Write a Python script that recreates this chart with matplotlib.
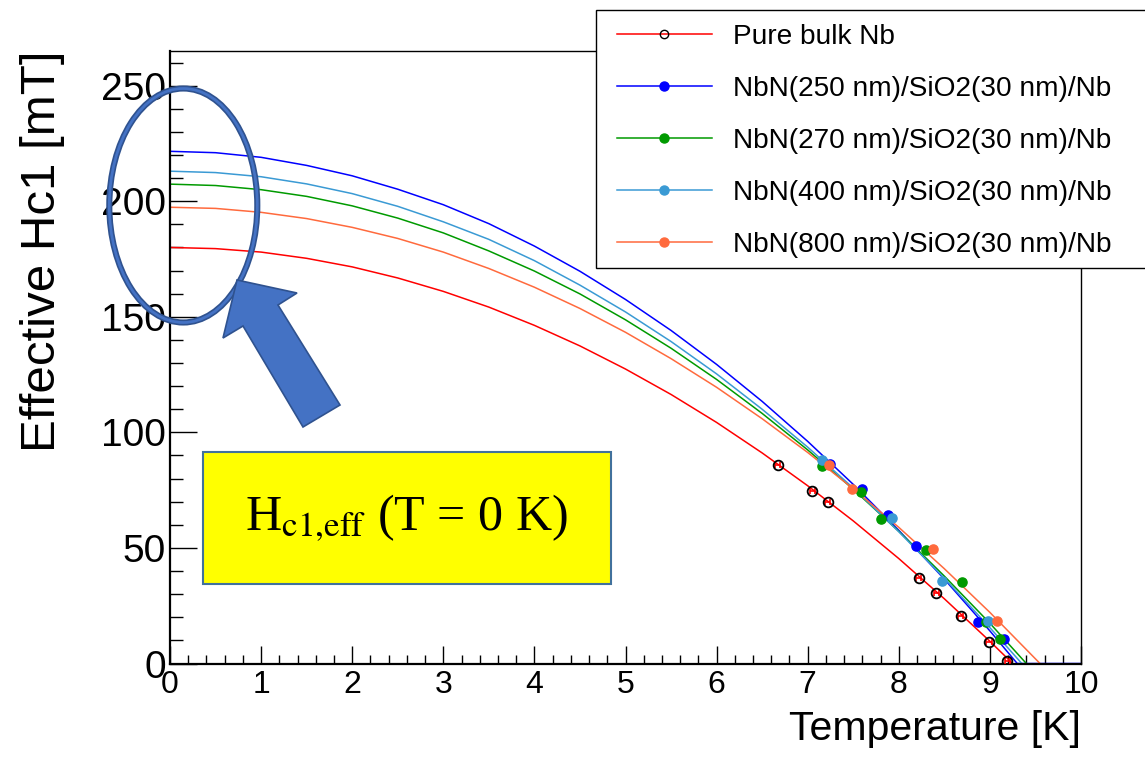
import matplotlib
matplotlib.use('Agg')
import matplotlib.pyplot as plt
from matplotlib.patches import Ellipse, Polygon, Rectangle
from matplotlib.lines import Line2D
from matplotlib.ticker import MultipleLocator
from matplotlib.transforms import Affine2D

plt.rcParams['font.family'] = ['Liberation Sans', 'DejaVu Sans']
plt.rcParams['mathtext.fontset'] = 'stix'

# ---------------- data ----------------
T_grid = [0.0, 0.5, 1.0, 1.5, 2.0, 2.5, 3.0, 3.5, 4.0, 4.5,
          5.0, 5.5, 6.0, 6.5, 7.0, 7.5, 8.0, 8.5, 9.0]

T_bulk = T_grid + [9.25]
H_bulk = [180.0, 179.5, 178.0, 175.3, 171.6, 166.8, 161.0, 154.2, 146.3, 137.4,
          127.4, 116.4, 104.3, 91.1, 76.9, 61.7, 45.4, 28.0, 9.6, 0.0]

T_250 = T_grid + [9.3, 10.0]
H_250 = [221.6, 221.0, 219.0, 215.5, 211.0, 205.2, 198.5, 190.3, 180.6, 169.7,
         157.5, 144.1, 129.4, 113.4, 96.1, 77.5, 57.6, 36.5, 14.1, 0.0, 0.0]

T_270 = T_grid + [9.4]
H_270 = [207.4, 206.8, 205.0, 202.1, 198.0, 192.7, 186.3, 178.5, 169.8, 159.9,
         148.7, 136.4, 122.9, 108.2, 92.4, 75.4, 57.2, 37.8, 17.4, 0.0]

T_400 = T_grid + [9.35]
H_400 = [213.0, 212.4, 210.6, 207.5, 203.3, 197.8, 191.1, 183.5, 174.3, 163.7,
         152.1, 139.3, 125.3, 110.0, 93.6, 75.9, 57.0, 36.9, 15.5, 0.0]

T_800 = T_grid + [9.55]
H_800 = [197.4, 196.9, 195.2, 192.5, 188.7, 183.9, 178.0, 170.9, 162.8, 153.6,
         143.3, 131.9, 119.5, 105.9, 91.3, 75.6, 58.9, 41.0, 22.1, 0.0]

# measured points
pT_bulk = [6.67, 7.05, 7.22, 8.22, 8.41, 8.68, 8.99, 9.19]
pH_bulk = [85.8, 74.8, 69.8, 36.9, 30.3, 20.4, 9.4, 1.2]
pT_250 = [7.25, 7.60, 7.88, 8.19, 8.87, 9.16]
pH_250 = [86.5, 75.3, 64.2, 50.8, 17.9, 10.7]
pT_270 = [7.16, 7.59, 7.81, 8.30, 8.69, 8.96, 9.11]
pH_270 = [85.3, 74.1, 62.7, 49.0, 35.1, 17.9, 10.7]
pT_400 = [7.16, 7.92, 8.47, 8.98]
pH_400 = [88.2, 63.0, 35.8, 18.2]
pT_800 = [7.23, 7.49, 8.37, 9.08]
pH_800 = [85.8, 75.3, 49.5, 18.2]

labels = ["Pure bulk Nb",
          "NbN(250 nm)/SiO2(30 nm)/Nb",
          "NbN(270 nm)/SiO2(30 nm)/Nb",
          "NbN(400 nm)/SiO2(30 nm)/Nb",
          "NbN(800 nm)/SiO2(30 nm)/Nb"]
colors = ['#ff0000', '#0000ff', '#009a00', '#3a9ad4', '#ff6a3d']

x_ticks = list(range(0, 11))
y_ticks = [0, 50, 100, 150, 200, 250]

# ---------------- figure ----------------
W, H = 1145, 757
fig = plt.figure(figsize=(W / 100, H / 100), dpi=100)
fig.patch.set_facecolor('white')
L, R, TOP, BOT = 170, 1081, 51, 663.5
ax = fig.add_axes([L / W, 1 - BOT / H, (R - L) / W, (BOT - TOP) / H])

lw = 1.1
curves = [(T_bulk, H_bulk), (T_250, H_250), (T_270, H_270), (T_400, H_400), (T_800, H_800)]
points = [(pT_bulk, pH_bulk), (pT_250, pH_250), (pT_270, pH_270), (pT_400, pH_400), (pT_800, pH_800)]

for (tx, hy), c in zip(curves, colors):
    ax.plot(tx, hy, color=c, lw=lw, zorder=2, clip_on=True)

# bulk points: open black circles with red horizontal error bars
ax.errorbar(pT_bulk, pH_bulk, xerr=0.028, fmt='none', ecolor='red', elinewidth=1.2,
            capsize=2.2, capthick=1.2, zorder=3)
ax.plot(pT_bulk, pH_bulk, ls='none', marker='o', ms=7, mfc='none', mec='black', mew=1.3, zorder=4)
for (tx, hy), c in list(zip(points, colors))[1:]:
    ax.plot(tx, hy, ls='none', marker='o', ms=6.6, mfc=c, mec=c, zorder=4)

ax.set_xlim(0, 10)
ax.set_ylim(0, 265)
ax.set_xticks(x_ticks)
ax.set_yticks(y_ticks)
ax.xaxis.set_minor_locator(MultipleLocator(0.2))
ax.yaxis.set_minor_locator(MultipleLocator(10))
ax.tick_params(axis='x', which='major', direction='in', length=13, width=1.0, labelsize=23, pad=5)
ax.tick_params(axis='x', which='minor', direction='in', length=6.5, width=1.0)
ax.tick_params(axis='y', which='major', direction='in', length=19.5, width=1.0, labelsize=28, pad=3)
ax.tick_params(axis='y', which='minor', direction='in', length=9.5, width=1.0)
for s in ['left', 'bottom']:
    ax.spines[s].set_linewidth(1.6)
for s in ['top', 'right']:
    ax.spines[s].set_linewidth(1.0)

ax.set_xlabel("Temperature [K]", fontsize=29.5, loc='right')
ax.xaxis.set_label_coords(1.0, (BOT - 710) / (BOT - TOP))
ax.set_ylabel("Effective Hc1 [mT]", fontsize=35.5, loc='top')
ax.yaxis.set_label_coords((65 - L) / (R - L), 1.0)

# pixel transform (top-left origin)
pix = Affine2D().scale(1 / W, -1 / H).translate(0, 1) + fig.transFigure

# legend frame
fig.patches.append(Rectangle((596, 10), 560, 258, transform=pix, facecolor='white',
                             edgecolor='black', lw=1.0, zorder=3))
handles = [Line2D([], [], color=colors[0], lw=lw, marker='o', ms=6, mfc='none', mec='black', mew=1.0)]
for c in colors[1:]:
    handles.append(Line2D([], [], color=c, lw=lw, marker='o', ms=6.5, mfc=c, mec=c))
fig.legend(handles, labels, loc='upper left',
           bbox_to_anchor=(616.5 / W, 1 - 23.5 / H), bbox_transform=fig.transFigure,
           frameon=False, fontsize=20.2, handlelength=3.4, handletextpad=0.75,
           labelspacing=0.93, borderpad=0, borderaxespad=0)

# ellipse highlight
for ec, elw in [('#2F528F', 4.4), ('#4472C4', 2.0)]:
    fig.patches.append(Ellipse((183.3, 205.5), 148, 234, transform=pix, facecolor='none',
                               edgecolor=ec, lw=elw, zorder=6))

# block arrow
arrow_xy = [(237, 280), (297, 293), (278, 305), (340, 405), (303, 427), (243, 326), (223, 338)]
fig.patches.append(Polygon(arrow_xy, closed=True, transform=pix, facecolor='#4472C4',
                           edgecolor='#2F528F', lw=1.2, zorder=6))

# yellow box
fig.patches.append(Rectangle((203, 452), 408, 132, transform=pix, facecolor='#FFFF00',
                             edgecolor='#41719C', lw=1.5, zorder=6))
fig.text(406.7 / W, 1 - 518 / H, r"H$_{\mathrm{c1{,}eff}}$ (T = 0 K)", fontsize=36,
         family='Liberation Serif', ha='center', va='center', zorder=7)

fig.savefig('out.png', dpi=100)
